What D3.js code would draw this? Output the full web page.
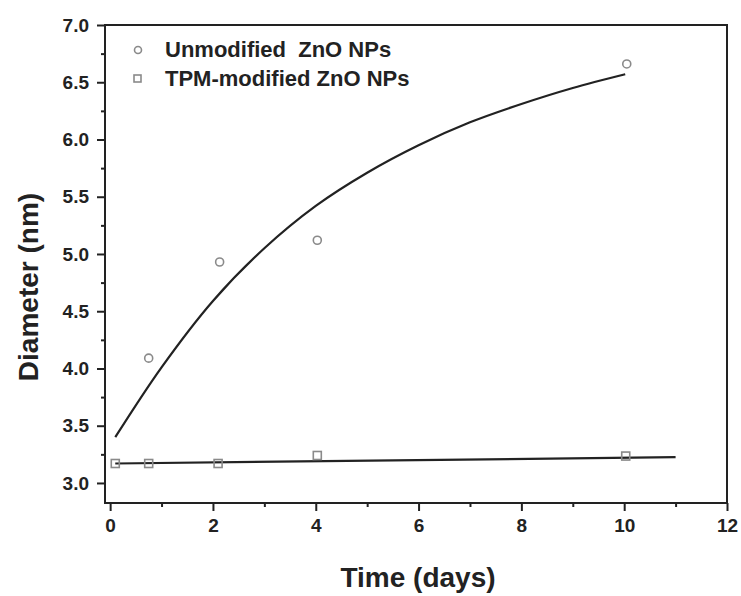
<!DOCTYPE html>
<html>
<head>
<meta charset="utf-8">
<script src="https://cdn.jsdelivr.net/npm/d3@7"></script>
<style>
  html, body { margin: 0; padding: 0; background: #fff; }
  svg { display: block; font-family: "Liberation Sans", Arial, sans-serif; font-weight: bold; }
</style>
</head>
<body>
<svg id="chart" width="741" height="596"></svg>
<script>
// Measured particle diameters (nm) over time (days)
const unmodDays = [0.75, 2.13, 4.03, 10.05];
const unmodDiameter = [4.09, 4.93, 5.12, 6.66];
const tpmDays = [0.1, 0.75, 2.1, 4.03, 10.03];
const tpmDiameter = [3.17, 3.17, 3.17, 3.24, 3.235];

// Fitted growth curve for unmodified particles
const unmodFitDays = [0.1, 1, 2, 3, 4, 5, 6, 7, 8, 9, 10.02];
const unmodFitDiameter = [3.40, 4.01, 4.59, 5.05, 5.42, 5.71, 5.95, 6.15, 6.31, 6.45, 6.57];
// Fitted line for TPM-modified particles
const tpmFitDays = [0.1, 11.0];
const tpmFitDiameter = [3.17, 3.225];

const xTicks = [0, 2, 4, 6, 8, 10, 12];
const xMinorTicks = [1, 3, 5, 7, 9, 11];
const yTicks = [3.0, 3.5, 4.0, 4.5, 5.0, 5.5, 6.0, 6.5, 7.0];
const yMinorTicks = [3.25, 3.75, 4.25, 4.75, 5.25, 5.75, 6.25, 6.75];

const seriesNames = ["Unmodified  ZnO NPs", "TPM-modified ZnO NPs"];

(function draw() {
  const svg = d3.select("#chart");
  const plotL = 105, plotR = 727, plotT = 25, plotB = 503;
  const ink = "#222";
  const markerInk = "#8a8a8a";

  const x = d3.scaleLinear().domain([-0.1, 12]).range([plotL, plotR]);
  const y = d3.scaleLinear().domain([2.825, 7.0]).range([plotB, plotT]);

  // Minor ticks
  svg.append("g")
    .attr("transform", `translate(0,${plotB})`)
    .call(d3.axisBottom(x).tickValues(xMinorTicks).tickSize(4).tickFormat(""))
    .call(g => g.select(".domain").remove())
    .call(g => g.selectAll("line").attr("stroke", ink).attr("stroke-width", 2));
  svg.append("g")
    .attr("transform", `translate(${plotL},0)`)
    .call(d3.axisLeft(y).tickValues(yMinorTicks).tickSize(4).tickFormat(""))
    .call(g => g.select(".domain").remove())
    .call(g => g.selectAll("line").attr("stroke", ink).attr("stroke-width", 2));

  // Major ticks and labels
  const xAxis = svg.append("g")
    .attr("transform", `translate(0,${plotB})`)
    .call(d3.axisBottom(x).tickValues(xTicks).tickSize(8).tickPadding(8).tickFormat(d3.format("d")));
  const yAxis = svg.append("g")
    .attr("transform", `translate(${plotL},0)`)
    .call(d3.axisLeft(y).tickValues(yTicks).tickSize(8).tickPadding(8).tickFormat(d3.format(".1f")));
  [xAxis, yAxis].forEach(g => {
    g.select(".domain").remove();
    g.selectAll("line").attr("stroke", ink).attr("stroke-width", 2);
    g.selectAll("text")
      .attr("fill", ink)
      .style("font-family", "'Liberation Sans', Arial, sans-serif")
      .style("font-weight", "bold")
      .style("font-size", "19px");
  });

  // Plot frame
  svg.append("rect")
    .attr("x", plotL).attr("y", plotT)
    .attr("width", plotR - plotL).attr("height", plotB - plotT)
    .attr("fill", "none").attr("stroke", ink).attr("stroke-width", 2);

  // Fitted lines
  const line = d3.line().curve(d3.curveCatmullRom);
  svg.append("path")
    .datum(unmodFitDays.map((d, i) => [x(d), y(unmodFitDiameter[i])]))
    .attr("d", line)
    .attr("fill", "none").attr("stroke", ink).attr("stroke-width", 2.2);
  svg.append("path")
    .datum(tpmFitDays.map((d, i) => [x(d), y(tpmFitDiameter[i])]))
    .attr("d", line)
    .attr("fill", "none").attr("stroke", ink).attr("stroke-width", 2.2);

  // Data markers
  svg.append("g").selectAll("circle")
    .data(unmodDays.map((d, i) => [d, unmodDiameter[i]]))
    .join("circle")
    .attr("cx", d => x(d[0])).attr("cy", d => y(d[1])).attr("r", 4)
    .attr("fill", "none").attr("stroke", markerInk).attr("stroke-width", 1.6);
  svg.append("g").selectAll("rect")
    .data(tpmDays.map((d, i) => [d, tpmDiameter[i]]))
    .join("rect")
    .attr("x", d => x(d[0]) - 4).attr("y", d => y(d[1]) - 4)
    .attr("width", 8).attr("height", 8)
    .attr("fill", "none").attr("stroke", markerInk).attr("stroke-width", 1.6);

  // Legend
  const legend = svg.append("g");
  legend.append("circle")
    .attr("cx", 138).attr("cy", 50).attr("r", 3.5)
    .attr("fill", "none").attr("stroke", markerInk).attr("stroke-width", 1.6);
  legend.append("rect")
    .attr("x", 134).attr("y", 75).attr("width", 7).attr("height", 7)
    .attr("fill", "none").attr("stroke", markerInk).attr("stroke-width", 1.6);
  legend.selectAll("text")
    .data(seriesNames)
    .join("text")
    .attr("x", 165).attr("y", (d, i) => 57 + i * 29)
    .attr("fill", ink)
    .style("font-size", "22px")
    .style("white-space", "pre")
    .text(d => d);

  // Axis titles
  svg.append("text")
    .attr("x", (plotL + plotR) / 2 + 2).attr("y", 587)
    .attr("text-anchor", "middle")
    .attr("fill", ink)
    .style("font-size", "28px")
    .text("Time (days)");
  svg.append("text")
    .attr("transform", `translate(38,${(plotT + plotB) / 2 + 23}) rotate(-90)`)
    .attr("text-anchor", "middle")
    .attr("fill", ink)
    .style("font-size", "28px")
    .text("Diameter (nm)");
})();
</script>
</body>
</html>
